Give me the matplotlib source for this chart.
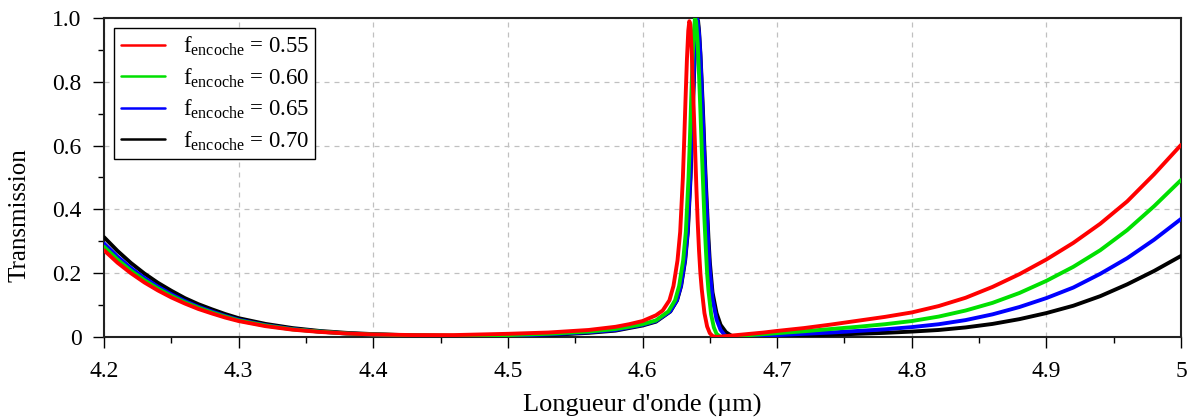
import matplotlib
matplotlib.use("Agg")
import matplotlib.pyplot as plt
from matplotlib.ticker import MultipleLocator, FixedLocator

plt.rcParams['font.family'] = ['Liberation Serif', 'DejaVu Serif']
plt.rcParams['mathtext.fontset'] = 'custom'
plt.rcParams['mathtext.rm'] = 'Liberation Serif'
plt.rcParams['mathtext.it'] = 'Liberation Serif:italic'

# ---- data ----
labels = ["0.55", "0.60", "0.65", "0.70"]
colors = ["#ff0000", "#00e000", "#0000ff", "#000000"]

wl_055 = [4.20, 4.21, 4.22, 4.23, 4.24, 4.25, 4.26, 4.27, 4.28, 4.29, 4.30, 4.32, 4.34, 4.36, 4.38, 4.40,
          4.43, 4.46, 4.50, 4.53, 4.56, 4.58, 4.59, 4.60, 4.61, 4.615, 4.62, 4.623, 4.626, 4.628,
          4.630, 4.631, 4.632, 4.633, 4.634, 4.6348, 4.6355, 4.6365, 4.638, 4.639, 4.640, 4.641,
          4.642, 4.643, 4.644, 4.646, 4.648, 4.650, 4.652, 4.655, 4.66, 4.67, 4.68, 4.69, 4.70,
          4.72, 4.74, 4.76, 4.78, 4.80, 4.82, 4.84, 4.86, 4.88, 4.90, 4.92, 4.94, 4.96, 4.98, 5.00]
t_055 = [0.272, 0.233, 0.200, 0.171, 0.146, 0.124, 0.105, 0.088, 0.074, 0.061, 0.050, 0.034, 0.023, 0.016, 0.011, 0.008,
         0.006, 0.006, 0.010, 0.014, 0.022, 0.032, 0.040, 0.050, 0.068, 0.083, 0.115, 0.16, 0.24, 0.33,
         0.50, 0.62, 0.75, 0.87, 0.96, 0.99, 0.98, 0.90, 0.72, 0.60, 0.47, 0.36,
         0.27, 0.20, 0.15, 0.075, 0.033, 0.012, 0.003, 0.0, 0.002, 0.006, 0.010, 0.014, 0.019,
         0.028, 0.039, 0.051, 0.063, 0.077, 0.097, 0.123, 0.157, 0.197, 0.243, 0.295, 0.355, 0.425, 0.51, 0.602]

wl_060 = [4.20, 4.21, 4.22, 4.23, 4.24, 4.25, 4.26, 4.27, 4.28, 4.29, 4.30, 4.32, 4.34, 4.36, 4.38, 4.40,
          4.43, 4.46, 4.50, 4.53, 4.56, 4.58, 4.59, 4.60, 4.61, 4.6192, 4.6242, 4.6272, 4.6302, 4.6322,
          4.6342, 4.6352, 4.6362, 4.6372, 4.6382, 4.639, 4.6398, 4.641, 4.642, 4.643, 4.644, 4.645,
          4.646, 4.647, 4.648, 4.649, 4.651, 4.653, 4.655, 4.658, 4.665, 4.67, 4.68, 4.69, 4.70,
          4.72, 4.74, 4.76, 4.78, 4.80, 4.82, 4.84, 4.86, 4.88, 4.90, 4.92, 4.94, 4.96, 4.98, 5.00]
t_060 = [0.283, 0.243, 0.208, 0.178, 0.152, 0.129, 0.109, 0.092, 0.077, 0.064, 0.052, 0.036, 0.024, 0.017, 0.011, 0.008,
         0.005, 0.004, 0.006, 0.010, 0.017, 0.025, 0.032, 0.040, 0.052, 0.080, 0.115, 0.16, 0.24, 0.33,
         0.50, 0.62, 0.75, 0.87, 0.96, 1.0, 0.99, 0.92, 0.82, 0.71, 0.59, 0.48,
         0.37, 0.28, 0.20, 0.145, 0.07, 0.03, 0.01, 0.0, 0.0015, 0.003, 0.006, 0.009, 0.012,
         0.018, 0.025, 0.032, 0.040, 0.050, 0.064, 0.083, 0.107, 0.138, 0.176, 0.22, 0.272, 0.335, 0.41, 0.492]

wl_065 = [4.20, 4.21, 4.22, 4.23, 4.24, 4.25, 4.26, 4.27, 4.28, 4.29, 4.30, 4.32, 4.34, 4.36, 4.38, 4.40,
          4.43, 4.46, 4.50, 4.53, 4.56, 4.58, 4.59, 4.60, 4.61, 4.6205, 4.6255, 4.6285, 4.6315, 4.6335,
          4.6355, 4.6365, 4.6375, 4.6385, 4.6395, 4.6403, 4.641, 4.642, 4.643, 4.644, 4.645, 4.646,
          4.647, 4.648, 4.649, 4.650, 4.652, 4.655, 4.658, 4.661, 4.664, 4.67, 4.68, 4.69, 4.70,
          4.72, 4.74, 4.76, 4.78, 4.80, 4.82, 4.84, 4.86, 4.88, 4.90, 4.92, 4.94, 4.96, 4.98, 5.00]
t_065 = [0.293, 0.252, 0.216, 0.185, 0.158, 0.134, 0.113, 0.095, 0.080, 0.066, 0.054, 0.037, 0.025, 0.017, 0.011, 0.008,
         0.004, 0.003, 0.004, 0.008, 0.015, 0.022, 0.030, 0.038, 0.050, 0.080, 0.115, 0.16, 0.24, 0.33,
         0.50, 0.62, 0.75, 0.87, 0.96, 1.0, 0.99, 0.95, 0.88, 0.78, 0.67, 0.56,
         0.46, 0.37, 0.28, 0.21, 0.12, 0.055, 0.022, 0.006, 0.0, 0.0005, 0.002, 0.004, 0.006,
         0.010, 0.014, 0.019, 0.024, 0.031, 0.040, 0.053, 0.071, 0.094, 0.122, 0.155, 0.198, 0.247, 0.305, 0.37]

wl_070 = [4.20, 4.21, 4.22, 4.23, 4.24, 4.25, 4.26, 4.27, 4.28, 4.29, 4.30, 4.32, 4.34, 4.36, 4.38, 4.40,
          4.43, 4.46, 4.50, 4.53, 4.56, 4.58, 4.59, 4.60, 4.61, 4.6207, 4.6257, 4.6287, 4.6317, 4.6337,
          4.6357, 4.6367, 4.6377, 4.6387, 4.6397, 4.6405, 4.6413, 4.642, 4.643, 4.644, 4.645, 4.646,
          4.647, 4.648, 4.649, 4.650, 4.652, 4.655, 4.658, 4.662, 4.666, 4.671, 4.68, 4.69, 4.70,
          4.72, 4.74, 4.76, 4.78, 4.80, 4.82, 4.84, 4.86, 4.88, 4.90, 4.92, 4.94, 4.96, 4.98, 5.00]
t_070 = [0.313, 0.270, 0.232, 0.199, 0.170, 0.145, 0.122, 0.103, 0.087, 0.072, 0.059, 0.041, 0.028, 0.019, 0.013, 0.009,
         0.005, 0.003, 0.003, 0.006, 0.013, 0.020, 0.028, 0.036, 0.048, 0.080, 0.115, 0.16, 0.24, 0.33,
         0.50, 0.62, 0.75, 0.87, 0.96, 1.0, 0.99, 0.96, 0.89, 0.80, 0.70, 0.59,
         0.49, 0.40, 0.31, 0.235, 0.14, 0.075, 0.038, 0.015, 0.004, 0.0, 0.0005, 0.001, 0.002,
         0.004, 0.007, 0.010, 0.013, 0.017, 0.022, 0.030, 0.041, 0.056, 0.075, 0.098, 0.128, 0.165, 0.207, 0.254]

series_wl = [wl_055, wl_060, wl_065, wl_070]
series_t = [t_055, t_060, t_065, t_070]

x_ticks = [4.2, 4.3, 4.4, 4.5, 4.6, 4.7, 4.8, 4.9, 5.0]
x_ticklabels = ["4.2", "4.3", "4.4", "4.5", "4.6", "4.7", "4.8", "4.9", "5"]
y_ticks = [0, 0.2, 0.4, 0.6, 0.8, 1.0]
y_ticklabels = ["0", "0.2", "0.4", "0.6", "0.8", "1.0"]

# ---- figure ----
fig = plt.figure(figsize=(11.91, 4.18), dpi=100)
ax = fig.add_axes([104 / 1191, 1 - 337 / 418, (1181 - 104) / 1191, (337 - 18) / 418])

lines = []
for i in range(4):
    ln, = ax.plot(series_wl[i], series_t[i], color=colors[i], lw=2.8,
                  label=r"f$_{\mathregular{encoche}}$ = " + labels[i],
                  zorder=3 + (3 - i), solid_joinstyle='round', solid_capstyle='round')
    lines.append(ln)

ax.set_xlim(4.2, 5.0)
ax.set_ylim(0, 1.0)
ax.xaxis.set_major_locator(FixedLocator(x_ticks))
ax.set_xticklabels(x_ticklabels)
ax.yaxis.set_major_locator(FixedLocator(y_ticks))
ax.set_yticklabels(y_ticklabels)
ax.xaxis.set_minor_locator(MultipleLocator(0.05))
ax.yaxis.set_minor_locator(MultipleLocator(0.1))

ax.tick_params(axis='x', which='major', pad=9)
ax.tick_params(axis='y', which='major', pad=8)
ax.tick_params(which='major', direction='out', length=8, width=1.0, labelsize=17,
               top=False, right=False)
ax.tick_params(which='minor', direction='out', length=4, width=1.0, top=False, right=False)

for s in ax.spines.values():
    s.set_linewidth(1.5)
    s.set_color('#222222')

ax.grid(True, which='major', color='#c0c0c0', linestyle=(0, (4, 4)), linewidth=0.9)
ax.set_axisbelow(True)

ax.set_xlabel("Longueur d'onde (µm)", fontsize=19)
ax.xaxis.set_label_coords(0.5, (337 - 405) / 319)
ax.xaxis.label.set_verticalalignment('center')
ax.set_ylabel("Transmission", fontsize=18)
ax.yaxis.set_label_coords((20 - 104) / 1077, (337 - 215) / 319)
ax.yaxis.label.set_verticalalignment('center')

leg = ax.legend(handles=lines, loc='upper left', fontsize=16.5, frameon=True, fancybox=False,
                edgecolor='black', framealpha=1, borderaxespad=0.45, handlelength=1.95,
                handletextpad=0.75, labelspacing=0.36, borderpad=0.28)
leg.get_frame().set_linewidth(1.0)
for l in leg.get_lines():
    l.set_linewidth(1.8)

fig.savefig("out.png", dpi=100)
